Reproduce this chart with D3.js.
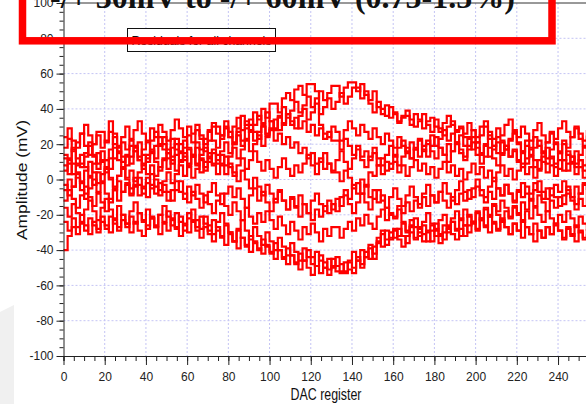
<!DOCTYPE html>
<html>
<head>
<meta charset="utf-8">
<script src="https://cdn.jsdelivr.net/npm/d3@7/dist/d3.min.js"></script>
<style>
  html, body { margin: 0; padding: 0; background: #fff; }
  svg { display: block; }
</style>
</head>
<body>
<svg id="chart" width="586" height="404"></svg>
<script>
// Residuals (mV) per channel, one value every 2 DAC steps (DAC 0, 2, ..., 254)
const dacStep = 2;
const ch1 = [12,12,18,9,9,15,21,13,6,11,11,17,24,16,10,14, 19,19,13,8,14,22,27,20,20,15,23,17,11,18,25,21,
  28,23,16,22,30,30,25,33,27,21,29,36,31,31,38,34, 40,35,43,43,38,46,49,45,51,53,48,54,54,50,31,26,
  24,30,27,22,28,33,29,25,31,27,23,29,24,20,26,22, 18,24,19,15,21,17,13,19,22,16,12,18,14,10,16,20,
  15,11,17,21,14,9,13,18,12,8,14,19,13,16,10,7, 12,17,11,6,13,18,12,9,15,20,14,10,16,11,8,13];
const ch2 = [24,29,22,18,26,31,25,20,27,27,21,33,26,19,24,30, 23,28,33,26,21,29,24,31,27,22,28,34,29,24,30,26,
  31,25,20,27,32,26,23,29,24,30,35,28,33,27,31,36, 32,38,33,29,36,41,35,39,44,38,42,47,41,46,50,45,
  49,53,53,47,52,55,55,50,54,48,45,50,41,37,42,35, 38,33,36,36,31,37,34,29,33,35,30,27,32,36,31,28,
  30,26,32,28,24,30,33,27,23,29,25,31,34,28,24,30, 26,22,28,32,25,21,27,23,29,33,27,24,30,26,22,28];
const ch3 = [5,11,3,8,14,7,2,9,15,10,4,12,18,11,6,13, 9,16,21,14,10,17,12,19,24,17,13,20,15,22,18,14,
  21,17,23,28,22,18,25,30,24,20,27,22,29,34,27,23, 30,26,33,28,35,31,37,33,29,36,40,34,38,43,37,41,
  46,40,44,49,43,47,52,52,46,50,43,38,44,40,36,41, 37,32,35,39,34,30,33,37,31,27,34,29,25,30,33,27,
  29,24,24,28,21,25,30,23,19,24,22,17,23,26,20,16, 19,14,18,22,16,12,17,21,15,11,16,13,9,14,18,12];
const ch4 = [-6,0,-4,3,-2,-8,1,-3,4,-1,6,0,-5,2,7,1, 5,-1,4,9,3,8,2,7,12,6,11,5,10,15,9,13,
  8,14,18,12,17,11,16,21,15,20,25,19,23,28,22,27, 31,25,29,34,28,32,37,31,35,29,33,27,31,25,29,23,
  27,22,22,17,23,19,14,19,13,16,11,15,8,12,5,9, 10,4,8,2,7,11,5,9,3,7,1,6,10,4,8,2,
  6,0,4,9,3,7,1,5,-1,4,8,2,6,0,5,9, 3,7,1,5,10,4,8,2,6,11,5,9,3,7,1,5];
const ch5 = [14,9,17,12,7,13,19,14,9,16,11,6,12,18,13,8, 13,18,11,6,12,16,10,5,11,15,9,14,20,13,8,14,
  9,4,10,15,8,3,9,13,7,2,8,12,6,11,16,10, 5,11,6,1,7,12,6,2,8,4,9,14,8,3,10,15,
  9,5,11,16,10,6,12,17,11,7,13,18,12,8,14,19, 13,18,22,16,12,18,23,17,13,19,24,18,14,20,16,21,
  17,13,19,24,18,14,20,25,19,15,21,17,22,27,21,16, 22,18,24,19,15,21,26,20,16,22,18,24,29,23,19,25];
const ch6 = [-3,-9,-4,1,-6,-11,-5,0,-7,-2,-8,-13,-6,-1,-7,-3, -9,-4,1,-5,-10,-3,-8,-2,-7,-12,-6,-1,-7,-11,-4,-9,
  -3,-8,-13,-7,-2,-9,-14,-8,-4,-10,-5,-11,-16,-9,-5,-12, -7,-13,-18,-11,-6,-12,-17,-10,-15,-9,-14,-19,-12,-8,-14,-18,
  -12,-17,-11,-15,-9,-14,-19,-13,-8,-13,-17,-11,-6,-12,-16,-10, -5,-11,-15,-9,-4,-10,-14,-8,-3,-9,-13,-7,-2,-8,-12,-6,
  -1,-7,-11,-5,0,-6,-10,-4,1,-5,-9,-3,-8,-13,-7,-2, -8,-12,-6,-1,-7,-11,-5,-10,-15,-9,-4,-10,-14,-8,-3,-9];
const ch7 = [8,3,9,4,-1,5,10,4,-2,3,7,1,-4,2,6,0, -5,1,-3,-8,-2,3,-4,-9,-3,-7,-12,-6,-1,-8,-13,-7,
  -11,-16,-9,-14,-19,-12,-8,-15,-20,-13,-18,-23,-16,-21,-25,-19, -24,-18,-23,-28,-21,-26,-31,-24,-29,-34,-27,-31,-25,-30,-35,-28,
  -32,-27,-27,-33,-28,-24,-29,-22,-26,-20,-25,-28,-21,-17,-23,-19, -21,-15,-19,-13,-18,-12,-16,-10,-15,-9,-13,-7,-12,-16,-10,-14,
  -8,-12,-6,-10,-4,-9,-13,-7,-11,-5,-9,-3,-8,-12,-6,-10, -4,-8,-2,-7,-11,-5,-9,-3,-7,-1,-6,-10,-4,-8,-2,-6];
const ch8 = [-16,-21,-14,-19,-24,-17,-12,-18,-23,-16,-11,-17,-22,-15,-20,-25, -18,-13,-19,-24,-17,-22,-27,-20,-15,-21,-26,-19,-24,-29,-22,-17,
  -23,-28,-21,-26,-31,-24,-19,-25,-30,-35,-28,-23,-29,-34,-27,-32, -37,-30,-35,-40,-33,-38,-43,-36,-41,-46,-39,-44,-48,-41,-46,-50,
  -45,-50,-44,-48,-52,-46,-41,-46,-40,-44,-37,-42,-35,-29,-34,-30, -33,-28,-32,-36,-30,-34,-27,-31,-35,-29,-25,-31,-34,-28,-24,-29,
  -32,-26,-30,-24,-28,-22,-26,-30,-24,-28,-22,-27,-31,-25,-29,-23, -27,-31,-25,-29,-33,-27,-31,-25,-29,-34,-28,-32,-26,-30,-34,-28];
const ch9 = [-24,-29,-22,-27,-20,-26,-31,-24,-28,-21,-26,-30,-23,-27,-20,-25, -30,-24,-29,-32,-26,-21,-27,-31,-25,-29,-23,-28,-32,-26,-30,-24,
  -29,-33,-27,-31,-35,-29,-33,-37,-31,-35,-39,-33,-37,-41,-35,-39, -42,-37,-41,-45,-40,-44,-48,-43,-47,-51,-46,-50,-54,-49,-53,-50,
  -54,-49,-52,-52,-47,-51,-53,-46,-50,-44,-39,-45,-36,-31,-37,-33, -29,-34,-38,-32,-27,-33,-30,-35,-29,-26,-32,-36,-30,-27,-31,-34,
  -28,-32,-26,-24,-29,-23,-27,-21,-25,-29,-23,-27,-31,-25,-29,-33, -27,-31,-35,-29,-33,-27,-31,-25,-29,-33,-27,-31,-35,-29,-33,-31];
const ch10 = [-40,-32,-27,-31,-25,-29,-22,-26,-30,-24,-28,-21,-25,-29,-23,-27, -21,-25,-19,-23,-28,-22,-26,-20,-24,-18,-22,-27,-21,-25,-19,-23,
  -27,-21,-25,-29,-23,-27,-32,-26,-30,-35,-29,-33,-38,-32,-36,-40, -34,-38,-42,-36,-40,-45,-39,-43,-48,-42,-46,-40,-44,-49,-43,-47,
  -51,-45,-49,-53,-53,-47,-50,-44,-48,-41,-45,-38,-33,-38,-29,-34, -28,-32,-25,-30,-26,-22,-28,-24,-19,-25,-29,-23,-20,-26,-22,-18,
  -23,-17,-21,-25,-19,-23,-17,-21,-15,-20,-24,-18,-22,-16,-20,-24, -18,-22,-16,-20,-24,-18,-22,-26,-20,-24,-18,-22,-27,-21,-25,-29];
const ch11 = [18,23,16,21,26,19,14,20,25,18,22,27,20,15,21,17, 22,16,11,17,22,15,19,24,17,12,18,23,16,11,17,13,
  18,12,7,13,9,14,8,3,9,4,-1,5,0,-5,1,-4, -9,-3,-8,-13,-7,-12,-17,-11,-16,-21,-14,-19,-23,-17,-21,-15,
  -19,-14,-18,-10,-6,-11,-3,-8,0,-4,4,2,8,3,10,6, 14,8,13,18,12,17,22,16,20,25,19,23,28,22,26,21,
  25,19,23,17,21,15,19,13,17,21,15,19,13,17,11,15, 9,13,7,11,15,9,13,7,11,5,9,13,7,11,5,9];
const ch12 = [-12,-6,-11,-16,-9,-4,-10,-15,-8,-13,-18,-11,-6,-12,-7,-2, -8,-3,-9,-4,1,-5,0,-6,-1,4,-2,3,8,2,7,1,
  6,11,5,10,15,9,14,8,13,18,12,17,22,16,20,25, 19,24,28,22,26,20,24,18,21,15,18,12,15,9,12,6,
  9,4,4,-1,5,1,-5,-2,-8,-3,-10,-6,-13,-9,-16,-20, -22,-17,-24,-29,-23,-27,-32,-26,-30,-35,-28,-32,-26,-30,-24,-28,
  -22,-26,-20,-24,-18,-22,-16,-20,-14,-18,-12,-16,-21,-15,-19,-13, -17,-11,-15,-9,-13,-18,-12,-16,-10,-14,-8,-12,-17,-11,-15,-9];
const channels = [ch1, ch2, ch3, ch4, ch5, ch6, ch7, ch8, ch9, ch10, ch11, ch12];

const xTicks = [0,20,40,60,80,100,120,140,160,180,200,220,240];
const yTicks = [-100,-80,-60,-40,-20,0,20,40,60,80,100];
const legendLabel = "Residuals for all channels";
const noteLabel = "-/+ 30mV to -/+ 60mV (0.75-1.5%)";

const svg = d3.select("#chart");
const x = d3.scaleLinear().domain([0, 256]).range([63.5, 591]);
const y = d3.scaleLinear().domain([-100, 100]).range([356, 3]);
const narrow = "'Liberation Sans Narrow', 'Arial Narrow', 'Liberation Sans', Arial, sans-serif";
const plain = d => String(d);

// faint backdrop at lower left
svg.append("path").attr("d", "M0,312 L14,305 L14,404 L0,404 Z").attr("fill", "#f0f0f0");

// dotted grid
const grid = svg.append("g").attr("stroke", "#c4c4f4").attr("stroke-width", 1).attr("stroke-dasharray", "2,2");
xTicks.filter(v => v > 0).forEach(v => {
  grid.append("line").attr("x1", x(v)).attr("x2", x(v)).attr("y1", y(100)).attr("y2", y(-100));
});
yTicks.filter(v => v > -100 && v < 100).forEach(v => {
  grid.append("line").attr("x1", x(0)).attr("x2", 586).attr("y1", y(v)).attr("y2", y(v));
});

// residual traces
const line = d3.line()
  .x((d, i) => x(i * dacStep))
  .y(d => y(d))
  .curve(d3.curveStepAfter);
svg.append("g").selectAll("path").data(channels).join("path")
  .attr("d", line)
  .attr("fill", "none")
  .attr("stroke", "#ff0000")
  .attr("stroke-width", 2.2);

// top frame line
svg.append("line").attr("x1", x(0)).attr("x2", 586).attr("y1", y(100)).attr("y2", y(100))
  .attr("stroke", "#333").attr("stroke-width", 1);

// x axis
const xAxis = svg.append("g").attr("transform", `translate(0,${y(-100)})`);
xAxis.call(d3.axisBottom(x).tickValues(d3.range(0, 256, 5)).tickSize(5).tickFormat(""));
xAxis.append("g").call(d3.axisBottom(x).tickValues(xTicks).tickSize(9).tickPadding(7).tickFormat(plain))
  .call(g => g.select(".domain").remove());
xAxis.selectAll("text").attr("font-family", narrow).attr("font-size", 12).attr("fill", "#222");
xAxis.selectAll("line, path").attr("stroke", "#222");

// y axis
const yAxis = svg.append("g").attr("transform", `translate(${x(0)},0)`);
yAxis.call(d3.axisLeft(y).tickValues(d3.range(-100, 101, 5)).tickSize(4).tickFormat(""));
yAxis.append("g").call(d3.axisLeft(y).tickValues(yTicks).tickSize(7).tickPadding(3).tickFormat(plain))
  .call(g => g.select(".domain").remove());
yAxis.selectAll("text").attr("font-family", narrow).attr("font-size", 12).attr("fill", "#222");
yAxis.selectAll("line, path").attr("stroke", "#222");

// axis titles
svg.append("text").attr("x", 326).attr("y", 400).attr("text-anchor", "middle")
  .attr("font-family", narrow).attr("font-size", 16).attr("fill", "#111")
  .attr("textLength", 71).attr("lengthAdjust", "spacingAndGlyphs")
  .text("DAC register");
svg.append("text").attr("transform", "translate(27,180) rotate(-90)").attr("text-anchor", "middle")
  .attr("font-family", "'Liberation Sans', Arial, sans-serif").attr("font-size", 15).attr("fill", "#111")
  .attr("textLength", 120).attr("lengthAdjust", "spacingAndGlyphs")
  .text("Amplitude (mV)");

// legend
const legend = svg.append("g");
legend.append("rect").attr("x", 127.5).attr("y", 28.5).attr("width", 148).attr("height", 23)
  .attr("fill", "#fff").attr("stroke", "#111").attr("stroke-width", 1);
legend.append("text").attr("x", 201.5).attr("y", 45).attr("text-anchor", "middle")
  .attr("font-family", "'Liberation Sans', Arial, sans-serif").attr("font-size", 13).attr("fill", "#111")
  .attr("textLength", 140).attr("lengthAdjust", "spacingAndGlyphs")
  .text(legendLabel);

// annotation
svg.append("text").attr("x", 50).attr("y", 7.5)
  .attr("font-family", "'Liberation Serif', 'Times New Roman', serif").attr("font-weight", "bold")
  .attr("font-size", 32).attr("fill", "#111")
  .attr("textLength", 465).attr("lengthAdjust", "spacingAndGlyphs")
  .text(noteLabel);
svg.append("rect").attr("x", 22.5).attr("y", -30).attr("width", 529.5).attr("height", 70.8)
  .attr("fill", "none").attr("stroke", "#ff0000").attr("stroke-width", 7.5);
</script>
</body>
</html>
